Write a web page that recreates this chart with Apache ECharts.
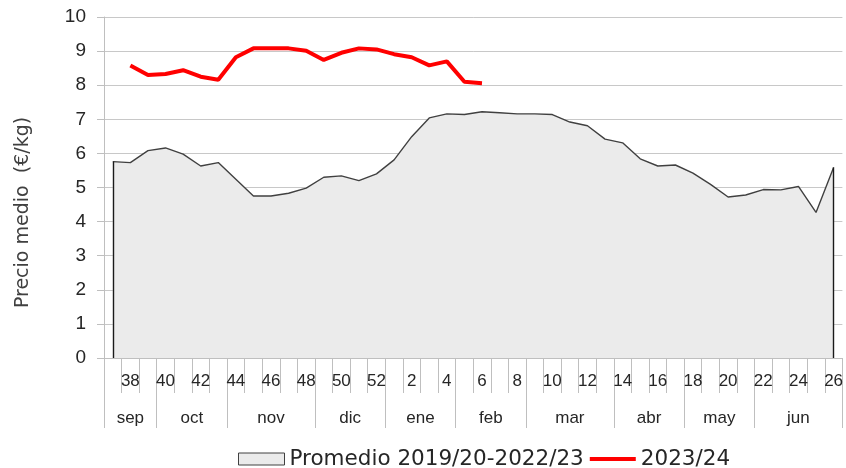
<!DOCTYPE html>
<html>
<head>
<meta charset="utf-8">
<script src="https://cdn.jsdelivr.net/npm/echarts@6/dist/echarts.min.js"></script>
<style>
html,body{margin:0;padding:0;background:#fff;}
#chart{width:846px;height:468px;}
</style>
</head>
<body>
<div id="chart"></div>
<script>
// Weeks (campaign starts week 37)
var weeks = [37,38,39,40,41,42,43,44,45,46,47,48,49,50,51,52,1,2,3,4,5,6,7,8,9,10,11,12,13,14,15,16,17,18,19,20,21,22,23,24,25,26];
// Average 2019/20-2022/23
var promedio = [5.76,5.73,6.08,6.16,5.98,5.63,5.73,5.24,4.75,4.75,4.83,4.98,5.30,5.34,5.20,5.40,5.81,6.49,7.04,7.16,7.14,7.22,7.19,7.16,7.16,7.14,6.92,6.81,6.42,6.31,5.84,5.63,5.66,5.42,5.09,4.72,4.78,4.94,4.93,5.03,4.27,5.59];
// 2023/24 season
var season2324 = [null,8.58,8.30,8.33,8.44,8.25,8.16,8.82,9.08,9.08,9.08,9.01,8.74,8.95,9.08,9.05,8.91,8.82,8.58,8.70,8.10,8.06];
// Month labels and their week spans (number of weeks each)
var months = ['sep','oct','nov','dic','ene','feb','mar','abr','may','jun'];
var monthWeeks = [3,4,5,4,4,4,5,4,4,5];
var yTicks = [0,1,2,3,4,5,6,7,8,9,10];

var boundaries = [0];
var centers = [];
monthWeeks.forEach(function(n){
  var s = boundaries[boundaries.length-1];
  centers.push(s + n/2);
  boundaries.push(s + n);
});

var lastIdx = promedio.length - 1;
var chart = echarts.init(document.getElementById('chart'), null, {renderer:'canvas'});
var axisGray = '#bfbfbf';
var txt = '#262626';
chart.setOption({
  animation:false,
  backgroundColor:'#fff',
  grid:{left:104, top:17, width:743, height:341, containLabel:false},
  legend:{
    left:233, top:443,
    itemWidth:46, itemHeight:12, itemGap:6,
    symbolKeepAspect:true,
    textStyle:{fontFamily:'DejaVu Sans', fontSize:21.5, color:txt},
    data:[
      {name:'Promedio 2019/20-2022/23', icon:'rect', itemStyle:{color:'#ebebeb', borderColor:'#404040', borderWidth:1}},
      {name:'2023/24', icon:'path://M0,0 L46,0 L46,4 L0,4 Z', itemStyle:{color:'#ff0000', borderWidth:0}}
    ]
  },
  xAxis:[{
    type:'category',
    data:weeks,
    boundaryGap:true,
    axisLine:{show:true, lineStyle:{color:axisGray, width:1}},
    axisTick:{show:true, interval:0, length:35, lineStyle:{color:axisGray}},
    axisLabel:{
      interval:function(i){return i % 2 === 1;},
      margin:15,
      fontFamily:'Liberation Sans', fontSize:17, color:txt
    },
    splitLine:{show:false}
  },{
    type:'value',
    min:0, max:weeks.length,
    position:'bottom',
    axisLine:{show:false},
    axisTick:{show:true, customValues:boundaries, length:70, lineStyle:{color:axisGray}},
    axisLabel:{
      show:true,
      customValues:centers,
      margin:52,
      fontFamily:'Liberation Sans', fontSize:17, color:txt,
      formatter:function(v){
        var i = centers.indexOf(v);
        return i >= 0 ? months[i] : '';
      }
    },
    splitLine:{show:false}
  }],
  yAxis:{
    type:'value',
    min:0, max:10, interval:1,
    name:'Precio medio  (€/kg)',
    nameLocation:'middle',
    nameGap:71,
    nameRotate:90,
    nameTextStyle:{fontFamily:'DejaVu Sans', fontSize:19, color:'#404040', padding:[0,50,0,0]},
    axisLine:{show:true, lineStyle:{color:axisGray}},
    axisTick:{show:true, length:7, inside:false, lineStyle:{color:axisGray}},
    axisLabel:{margin:18, fontFamily:'Liberation Sans', fontSize:19, color:txt,
      formatter:function(v){return yTicks.indexOf(v) >= 0 ? String(v) : '';}},
    splitLine:{show:true, lineStyle:{color:'#c8c8c8', width:1}}
  },
  series:[{
    name:'Promedio 2019/20-2022/23',
    type:'line',
    data:promedio,
    symbol:'none',
    lineStyle:{color:'#404040', width:1.4},
    itemStyle:{color:'#ebebeb', borderColor:'#404040'},
    areaStyle:{color:'#ebebeb', opacity:1},
    z:2,
    markLine:{
      silent:true, symbol:'none', label:{show:false},
      lineStyle:{color:'#1a1a1a', width:1.4, type:'solid'},
      data:[
        [{coord:[0,0]},{coord:[0,promedio[0]]}],
        [{coord:[lastIdx,0]},{coord:[lastIdx,promedio[lastIdx]]}]
      ]
    }
  },{
    name:'2023/24',
    type:'line',
    data:season2324,
    symbol:'none',
    lineStyle:{color:'#ff0000', width:4},
    itemStyle:{color:'#ff0000'},
    z:3
  }]
});
</script>
</body>
</html>
